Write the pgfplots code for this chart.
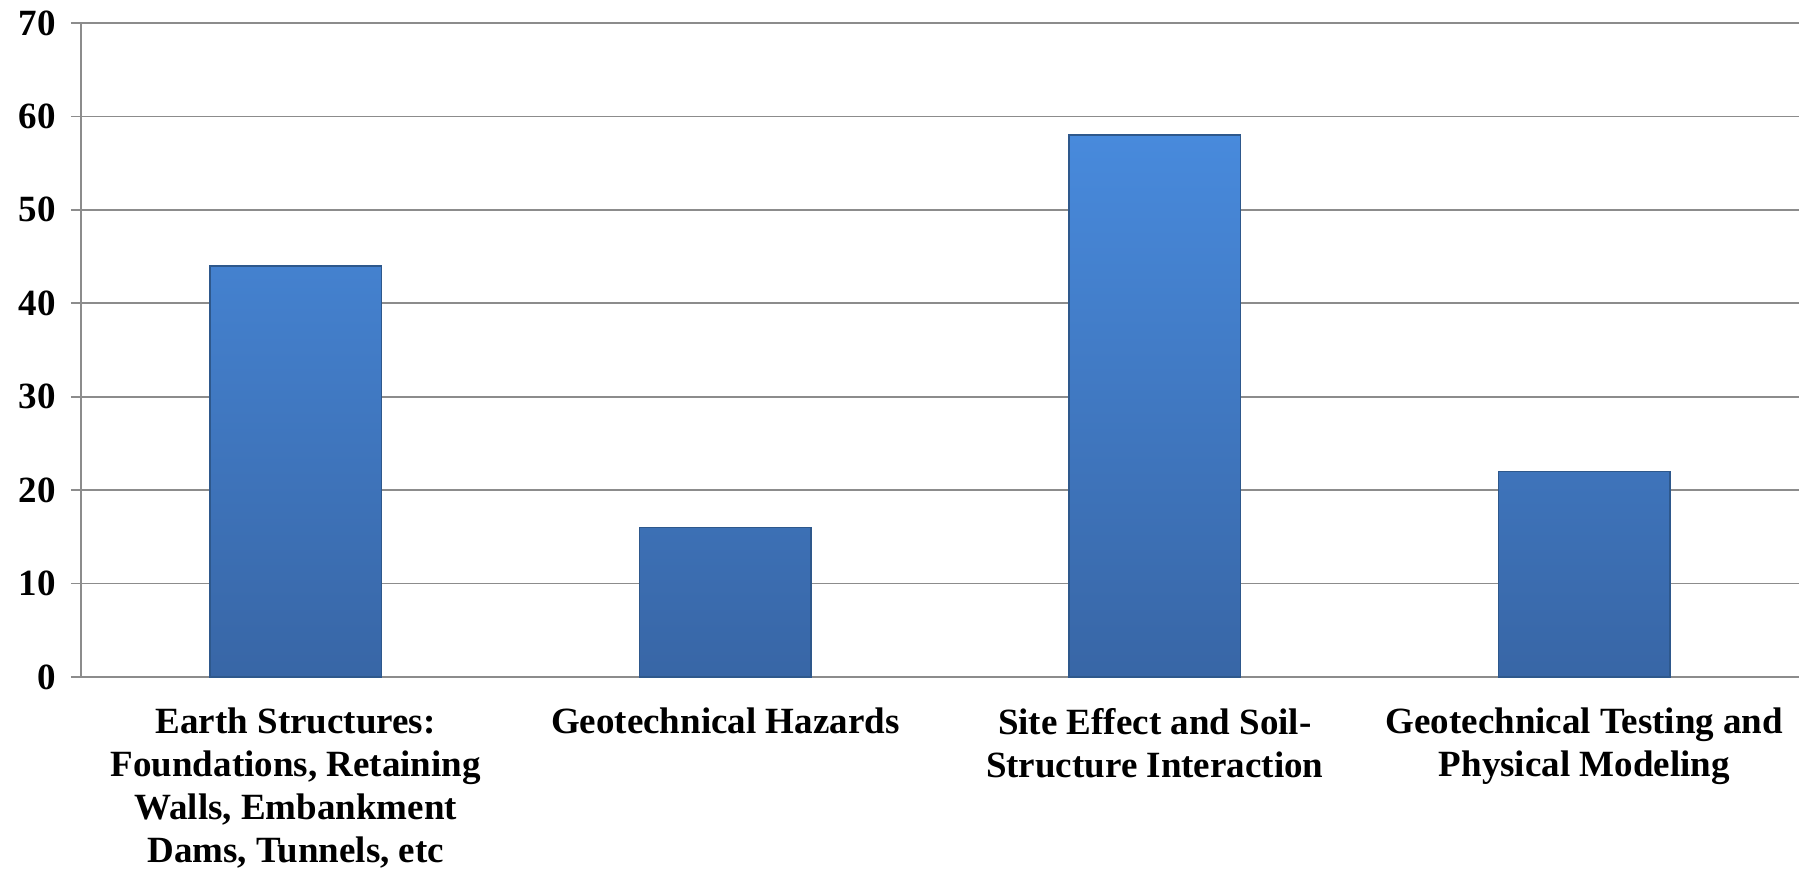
\documentclass[border=0pt]{standalone}
\usepackage{pgfplots}
\pgfplotsset{compat=1.18}
\usepackage{fontspec}
\setmainfont{Liberation Serif}
\definecolor{gridgray}{RGB}{140,140,140}
\definecolor{bartop}{RGB}{72,138,220}
\definecolor{barbot}{RGB}{56,102,166}
\definecolor{baredge}{RGB}{46,88,140}
\begin{document}
\begin{tikzpicture}
\path[use as bounding box] (-40.5pt,-96.5pt) rectangle (863.5pt,338.5pt);
\begin{axis}[
  at={(0,0)}, anchor=south west,
  scale only axis,
  width=859pt, height=327pt,
  xmin=-0.5, xmax=3.5,
  ymin=0, ymax=70,
  ytick={0,10,...,70},
  axis lines=left,
  axis line style={-, gridgray, line width=0.9pt},
  ymajorgrids,
  major grid style={gridgray, line width=0.9pt},
  tick align=outside,
  major tick length=5pt,
  tick style={gridgray, line width=0.9pt},
  xtick={0,1,2,3},
  xticklabels={{Earth Structures:\\Foundations, Retaining\\Walls, Embankment\\Dams, Tunnels, etc},
               {Geotechnical Hazards},
               {Site Effect and Soil-\\Structure Interaction},
               {Geotechnical Testing and\\Physical Modeling}},
  x tick style={draw=none},
  extra x ticks={-0.5,0.5,1.5,2.5,3.5},
  extra x tick labels={},
  extra x tick style={grid=none, tick style={gridgray, line width=0.9pt, draw=gridgray}, major tick length=6pt},
  xticklabel style={font=\bfseries\fontsize{18.5}{21.5}\selectfont, align=center, anchor=north, yshift=-7pt},
  yticklabel style={font=\bfseries\fontsize{18.5}{21.5}\selectfont, anchor=east, xshift=-4pt},
  /pgf/number format/assume math mode=true,
  clip=false,
]
\addplot[ybar, bar width=0.4, draw=baredge, line width=0.7pt,
  top color=bartop, bottom color=barbot]
  coordinates {(0,44) (1,16) (2,58) (3,22)};
\end{axis}
\end{tikzpicture}
\end{document}
